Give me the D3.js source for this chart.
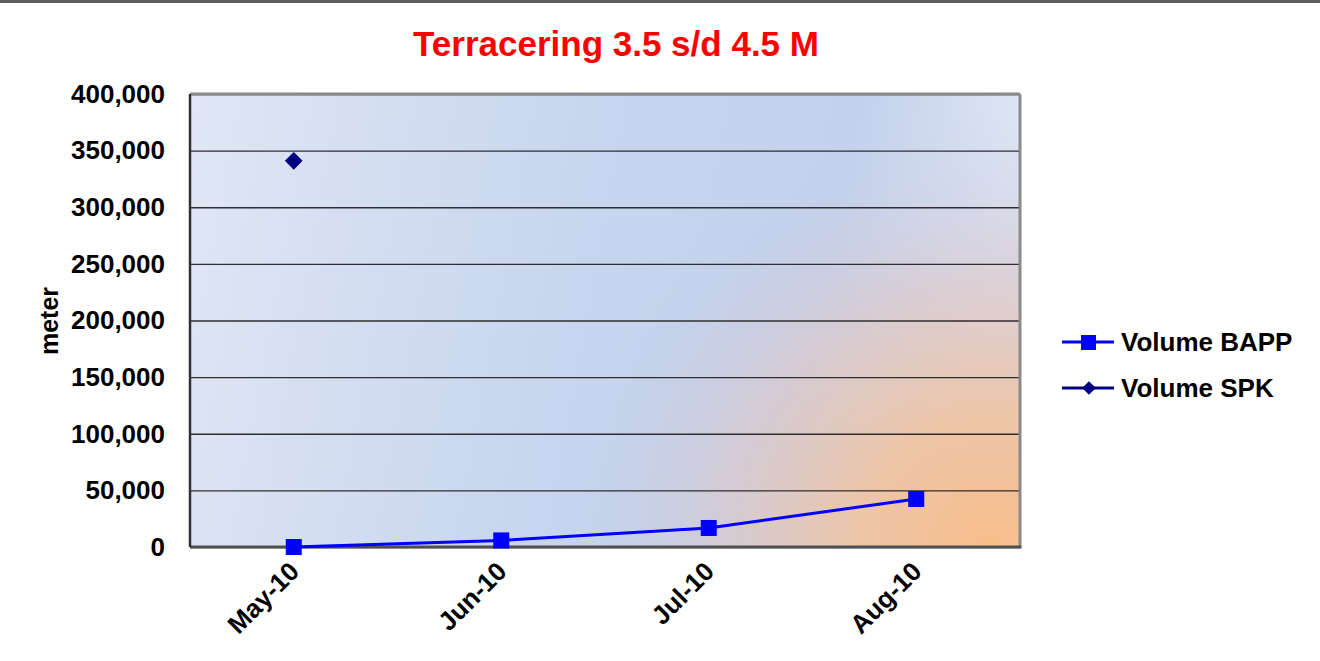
<!DOCTYPE html>
<html>
<head>
<meta charset="utf-8">
<script src="https://cdn.jsdelivr.net/npm/d3@7"></script>
<style>
  body { margin: 0; background: #fff; }
  svg text { font-family: "Liberation Sans", Arial, sans-serif; font-weight: bold; }
</style>
</head>
<body>
<div id="chart"></div>
<script>
// chart data
var months = ['May-10', 'Jun-10', 'Jul-10', 'Aug-10'];
var volumeBAPP = [0, 5800, 16800, 42400];
var volumeSPK = [341000, null, null, null];
var yTicks = [0, 50000, 100000, 150000, 200000, 250000, 300000, 350000, 400000];
var seriesNames = ['Volume BAPP', 'Volume SPK'];

var width = 1320, height = 661;
var margin = { top: 94, left: 190, right: 300, bottom: 114 };
var plotW = width - margin.left - margin.right;   // 830
var plotH = height - margin.top - margin.bottom;  // 453

var svg = d3.select('#chart').append('svg')
  .attr('width', width)
  .attr('height', height);

// top frame line
svg.append('rect').attr('x', 0).attr('y', 0).attr('width', width).attr('height', 3).attr('fill', '#5f5f5f');

var defs = svg.append('defs');
var lin = defs.append('linearGradient').attr('id', 'bgLin')
  .attr('x1', '0%').attr('y1', '0%').attr('x2', '100%').attr('y2', '10%');
lin.append('stop').attr('offset', '0%').attr('stop-color', '#e0e6f4');
lin.append('stop').attr('offset', '50%').attr('stop-color', '#c7d5ee');
lin.append('stop').attr('offset', '80%').attr('stop-color', '#c3d1ec');
lin.append('stop').attr('offset', '100%').attr('stop-color', '#dfe5f3');

var rad = defs.append('radialGradient').attr('id', 'bgRad')
  .attr('gradientUnits', 'userSpaceOnUse')
  .attr('cx', margin.left + plotW - 30).attr('cy', margin.top + plotH).attr('r', 440);
rad.append('stop').attr('offset', '0%').attr('stop-color', '#f8be8b').attr('stop-opacity', 1);
rad.append('stop').attr('offset', '30%').attr('stop-color', '#eec4a4').attr('stop-opacity', 0.95);
rad.append('stop').attr('offset', '60%').attr('stop-color', '#dbc9cc').attr('stop-opacity', 0.75);
rad.append('stop').attr('offset', '85%').attr('stop-color', '#c9cde2').attr('stop-opacity', 0.25);
rad.append('stop').attr('offset', '100%').attr('stop-color', '#c6d2ea').attr('stop-opacity', 0);

var x = d3.scaleBand().domain(months).range([margin.left, margin.left + plotW]);
var y = d3.scaleLinear().domain([0, 400000]).range([margin.top + plotH, margin.top]);

// plot area
svg.append('rect').attr('x', margin.left).attr('y', margin.top)
  .attr('width', plotW).attr('height', plotH).attr('fill', 'url(#bgLin)');
svg.append('rect').attr('x', margin.left).attr('y', margin.top)
  .attr('width', plotW).attr('height', plotH).attr('fill', 'url(#bgRad)');

// gridlines
svg.append('g')
  .attr('transform', 'translate(' + margin.left + ',0)')
  .call(d3.axisLeft(y).tickValues(yTicks).tickSize(-plotW).tickFormat(''))
  .call(function(g) {
    g.select('.domain').remove();
    g.selectAll('line').attr('stroke', '#2e2e2e').attr('stroke-width', 1.3);
  });

// frame: top and right gray, left and bottom dark
svg.append('line').attr('x1', margin.left).attr('x2', margin.left + plotW)
  .attr('y1', margin.top).attr('y2', margin.top).attr('stroke', '#8a8a8a').attr('stroke-width', 3);
svg.append('line').attr('x1', margin.left + plotW).attr('x2', margin.left + plotW)
  .attr('y1', margin.top).attr('y2', margin.top + plotH).attr('stroke', '#8a8a8a').attr('stroke-width', 3);
svg.append('line').attr('x1', margin.left).attr('x2', margin.left + plotW + 1.5)
  .attr('y1', margin.top + plotH).attr('y2', margin.top + plotH).attr('stroke', '#505050').attr('stroke-width', 3);
svg.append('line').attr('x1', margin.left).attr('x2', margin.left)
  .attr('y1', margin.top).attr('y2', margin.top + plotH).attr('stroke', '#303030').attr('stroke-width', 2.5);

// y axis labels
svg.append('g')
  .attr('transform', 'translate(' + margin.left + ',0)')
  .call(d3.axisLeft(y).tickValues(yTicks).tickSize(0).tickPadding(25).tickFormat(d3.format(',')))
  .call(function(g) {
    g.select('.domain').remove();
    g.selectAll('text').attr('font-size', 26).attr('fill', '#000')
      .attr('font-family', '"Liberation Sans", Arial, sans-serif').attr('font-weight', 'bold');
  });

// x axis labels
svg.append('g').selectAll('text')
  .data(months).enter()
  .append('text')
  .attr('transform', function(d) {
    return 'translate(' + (x(d) + x.bandwidth() / 2 + 7) + ',' + (margin.top + plotH + 26) + ') rotate(-45)';
  })
  .attr('text-anchor', 'end')
  .attr('font-size', 26)
  .attr('fill', '#000')
  .text(function(d) { return d; });

// title
svg.append('text')
  .attr('x', 616).attr('y', 56)
  .attr('text-anchor', 'middle')
  .attr('font-size', 35)
  .attr('fill', '#ff0000')
  .text('Terracering 3.5 s/d 4.5 M');

// y axis title
svg.append('text')
  .attr('transform', 'translate(58,' + 321 + ') rotate(-90)')
  .attr('text-anchor', 'middle')
  .attr('font-size', 25)
  .attr('fill', '#000')
  .text('meter');

// series BAPP
var line = d3.line()
  .defined(function(d) { return d != null; })
  .x(function(d, i) { return x(months[i]) + x.bandwidth() / 2; })
  .y(function(d) { return y(d); });

svg.append('path')
  .datum(volumeBAPP)
  .attr('fill', 'none')
  .attr('stroke', '#0000ff')
  .attr('stroke-width', 3)
  .attr('d', line);

var sq = 16;
svg.selectAll('rect.bapp')
  .data(volumeBAPP).enter()
  .append('rect')
  .attr('class', 'bapp')
  .attr('x', function(d, i) { return x(months[i]) + x.bandwidth() / 2 - sq / 2; })
  .attr('y', function(d) { return y(d) - sq / 2; })
  .attr('width', sq).attr('height', sq)
  .attr('fill', '#0000ff');

// series SPK
var diamond = d3.symbol().type(d3.symbolDiamond2).size(200);
svg.selectAll('path.spk')
  .data(volumeSPK.map(function(v, i) { return { v: v, m: months[i] }; }).filter(function(d) { return d.v != null; }))
  .enter()
  .append('path')
  .attr('class', 'spk')
  .attr('transform', function(d) { return 'translate(' + (x(d.m) + x.bandwidth() / 2) + ',' + y(d.v) + ')'; })
  .attr('d', diamond)
  .attr('fill', '#000080');

// legend
var legend = svg.append('g');
var legendColors = ['#0000ff', '#000080'];
seriesNames.forEach(function(name, i) {
  var ly = 342 + i * 46;
  legend.append('line').attr('x1', 1062).attr('x2', 1114).attr('y1', ly).attr('y2', ly)
    .attr('stroke', legendColors[i]).attr('stroke-width', 3);
  if (i === 0) {
    legend.append('rect').attr('x', 1081).attr('y', ly - 7).attr('width', 15).attr('height', 15)
      .attr('fill', legendColors[i]);
  } else {
    legend.append('path').attr('transform', 'translate(1089,' + ly + ')')
      .attr('d', d3.symbol().type(d3.symbolDiamond2).size(120)).attr('fill', legendColors[i]);
  }
  legend.append('text').attr('x', 1121).attr('y', ly + 9)
    .attr('font-size', 26).attr('fill', '#000').text(name);
});
</script>
</body>
</html>
